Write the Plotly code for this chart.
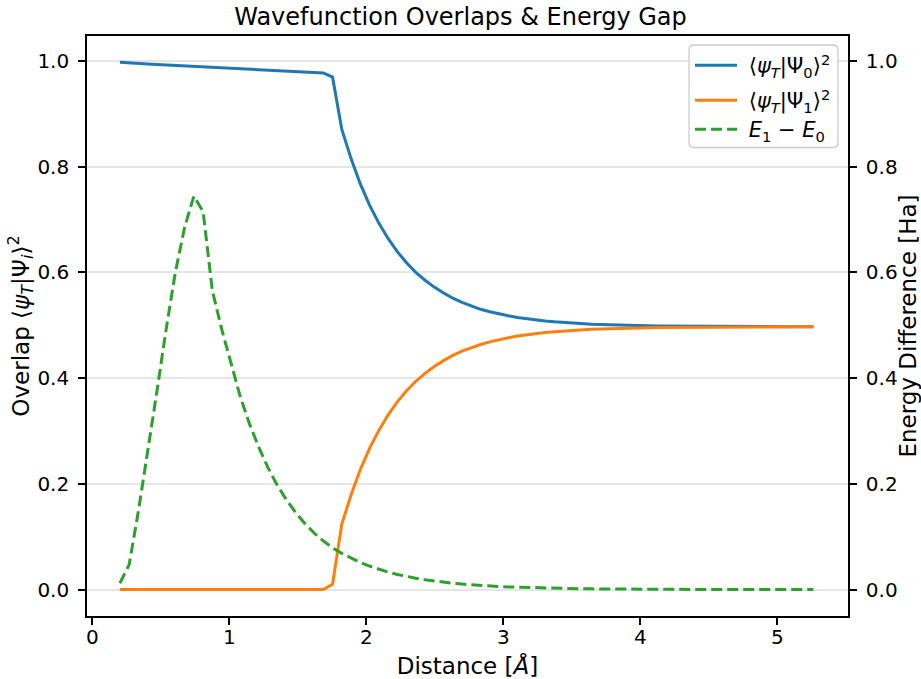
import plotly.graph_objects as go

# Distance grid [Å]
distance = [0.2, 0.2675, 0.335, 0.4025, 0.47, 0.5375, 0.605, 0.6725, 0.74, 0.8075,
            0.875, 0.9425, 1.01, 1.0775, 1.145, 1.2125, 1.28, 1.3475, 1.415, 1.4825,
            1.55, 1.6175, 1.685, 1.7525, 1.82, 1.8875, 1.955, 2.0225, 2.09, 2.1575,
            2.225, 2.2925, 2.36, 2.4275, 2.495, 2.5625, 2.63, 2.6975, 2.765, 2.8325,
            2.9, 2.9675, 3.035, 3.1025, 3.17, 3.2375, 3.305, 3.3725, 3.44, 3.5075,
            3.575, 3.6425, 3.71, 3.7775, 3.845, 3.9125, 3.98, 4.0475, 4.115, 4.1825,
            4.25, 4.3175, 4.385, 4.4525, 4.52, 4.5875, 4.655, 4.7225, 4.79, 4.8575,
            4.925, 4.9925, 5.06, 5.1275, 5.195, 5.2625]

overlap_0 = [0.997, 0.9955, 0.9946, 0.9937, 0.9929, 0.9920, 0.9911, 0.9902, 0.9893, 0.9885,
             0.9876, 0.9867, 0.9858, 0.9849, 0.9841, 0.9832, 0.9823, 0.9814, 0.9805, 0.9797,
             0.9788, 0.9779, 0.977, 0.969, 0.870, 0.815, 0.767, 0.727, 0.693, 0.664,
             0.639, 0.618, 0.600, 0.585, 0.572, 0.561, 0.551, 0.543, 0.536, 0.530,
             0.5255, 0.5213, 0.5177, 0.5146, 0.512, 0.5098, 0.5079, 0.5063, 0.5049, 0.5037,
             0.5027, 0.5019, 0.5012, 0.5005, 0.5000, 0.4996, 0.4992, 0.4989, 0.4986, 0.4984,
             0.4982, 0.4980, 0.4978, 0.4977, 0.4976, 0.4975, 0.4974, 0.4973, 0.4973, 0.4972,
             0.4972, 0.4971, 0.4971, 0.4971, 0.4970, 0.4970]

overlap_1 = [0.0, 0.0, 0.0, 0.0, 0.0, 0.0, 0.0, 0.0, 0.0, 0.0,
             0.0, 0.0, 0.0, 0.0, 0.0, 0.0, 0.0, 0.0, 0.0, 0.0,
             0.0, 0.0, 0.0, 0.010, 0.124, 0.179, 0.227, 0.267, 0.301, 0.330,
             0.355, 0.376, 0.394, 0.409, 0.422, 0.433, 0.443, 0.451, 0.458, 0.4635,
             0.4685, 0.4727, 0.4763, 0.4794, 0.482, 0.4842, 0.4861, 0.4877, 0.4891, 0.4903,
             0.4913, 0.4921, 0.4928, 0.4935, 0.4940, 0.4944, 0.4948, 0.4951, 0.4954, 0.4956,
             0.4958, 0.4960, 0.4962, 0.4963, 0.4964, 0.4965, 0.4966, 0.4967, 0.4967, 0.4968,
             0.4968, 0.4969, 0.4969, 0.4969, 0.4970, 0.4970]

energy_gap = [0.012, 0.047, 0.148, 0.257, 0.374, 0.492, 0.600, 0.685, 0.744, 0.715,
              0.565, 0.493, 0.427, 0.366, 0.314, 0.270, 0.231, 0.198, 0.170, 0.146,
              0.125, 0.107, 0.092, 0.079, 0.0685, 0.0592, 0.0512, 0.0443, 0.0384, 0.0332,
              0.0287, 0.0248, 0.0215, 0.0186, 0.0161, 0.0139, 0.0120, 0.0104, 0.0090, 0.0078,
              0.0067, 0.0058, 0.0050, 0.0044, 0.0038, 0.0033, 0.0028, 0.0024, 0.0021, 0.0018,
              0.0016, 0.0014, 0.0012, 0.0010, 0.0009, 0.0008, 0.0007, 0.0006, 0.0005, 0.0005,
              0.0004, 0.0004, 0.0003, 0.0003, 0.0003, 0.0002, 0.0002, 0.0002, 0.0002, 0.0001,
              0.0001, 0.0001, 0.0001, 0.0001, 0.0001, 0.0001]

y_ticks = [0.0, 0.2, 0.4, 0.6, 0.8, 1.0]
x_ticks = [0, 1, 2, 3, 4, 5]

FONT = "DejaVu Sans"
W, H = 921, 679
ML, MR, MT, MB = 87, 73, 36, 63
PW, PH = W - ML - MR, H - MT - MB


def px_x(p):
    return (p - ML) / PW


def px_y(p):
    return (H - MB - p) / PH


NB = "\u00a0"
fig = go.Figure()
fig.add_trace(go.Scatter(
    x=distance, y=overlap_0, mode="lines", legend="legend",
    name=NB + "⟨<i>ψ</i><sub><i>T</i></sub>|Ψ<sub>0</sub>⟩<sup>2</sup>",
    line=dict(color="#1f77b4", width=3)))
fig.add_trace(go.Scatter(
    x=distance, y=overlap_1, mode="lines", legend="legend2",
    name=NB + "⟨<i>ψ</i><sub><i>T</i></sub>|Ψ<sub>1</sub>⟩<sup>2</sup>",
    line=dict(color="#ff7f0e", width=3)))
fig.add_trace(go.Scatter(
    x=distance, y=energy_gap, mode="lines", yaxis="y2", legend="legend3",
    name=NB + "<i>E</i><sub>1</sub> − <i>E</i><sub>0</sub>",
    line=dict(color="#2ca02c", width=3, dash="11px,5px")))

# legend frame (rounded, semi-transparent like matplotlib)
x0, x1, y0, y1 = px_x(689), px_x(838), px_y(147.5), px_y(45)
rx, ry = 5 / PW, 5 / PH
frame = (f"M{x0+rx},{y1} L{x1-rx},{y1} Q{x1},{y1} {x1},{y1-ry} "
         f"L{x1},{y0+ry} Q{x1},{y0} {x1-rx},{y0} L{x0+rx},{y0} Q{x0},{y0} {x0},{y0+ry} "
         f"L{x0},{y1-ry} Q{x0},{y1} {x0+rx},{y1} Z")
fig.add_shape(type="path", path=frame, xref="paper", yref="paper", layer="above",
              line=dict(color="#cccccc", width=1.3), fillcolor="rgba(255,255,255,0.8)")

leg_common = dict(bgcolor="rgba(0,0,0,0)", borderwidth=0, xanchor="left", yanchor="middle",
                  font=dict(size=21, family=FONT, color="black"), itemwidth=42)
lx = px_x(690)

yr = [-0.0499, 1.0468]
axis_common = dict(zeroline=False, showline=True, linecolor="black", linewidth=1.6,
                   ticks="outside", ticklen=7, tickwidth=1.6, tickcolor="black",
                   tickfont=dict(size=20, family=FONT, color="black"),
                   automargin=False)

fig.update_layout(
    width=W, height=H,
    margin=dict(l=ML, r=MR, t=MT, b=MB, autoexpand=False),
    paper_bgcolor="white", plot_bgcolor="white",
    font=dict(family=FONT, size=20, color="black"),
    title=dict(text="Wavefunction Overlaps & Energy Gap", x=0.5, xanchor="center",
               y=1 - 17 / H, yanchor="middle", font=dict(size=24, family=FONT)),
    showlegend=True,
    legend=dict(x=lx, y=px_y(65.5), **leg_common),
    legend2=dict(x=lx, y=px_y(100.5), **leg_common),
    legend3=dict(x=lx, y=px_y(129.5), **leg_common),
    xaxis=dict(range=[-0.04, 5.515], tickvals=x_ticks, ticktext=[str(t) for t in x_ticks],
               showgrid=False, mirror=True, ticklabelstandoff=-5,
               title=dict(text="Distance [<i>Å</i>]", standoff=19,
                          font=dict(size=23, family=FONT)),
               **axis_common),
    yaxis=dict(range=yr, tickvals=y_ticks, ticktext=[f"{t:.1f}" for t in y_ticks],
               showgrid=True, gridcolor="#e6e6e6", gridwidth=1.5, ticklabelstandoff=5,
               title=dict(text="Overlap ⟨<i>ψ</i><sub><i>T</i></sub>|Ψ<sub><i>i</i></sub>⟩<sup>2</sup>",
                          standoff=0, font=dict(size=23, family=FONT)),
               **axis_common),
    yaxis2=dict(range=yr, tickvals=y_ticks, ticktext=[f"{t:.1f}" for t in y_ticks],
                overlaying="y", side="right", showgrid=False, ticklabelstandoff=5,
                title=dict(text="Energy Difference [Ha]", standoff=6,
                           font=dict(size=23, family=FONT)),
                **axis_common),
)

fig.write_html("out.html")
